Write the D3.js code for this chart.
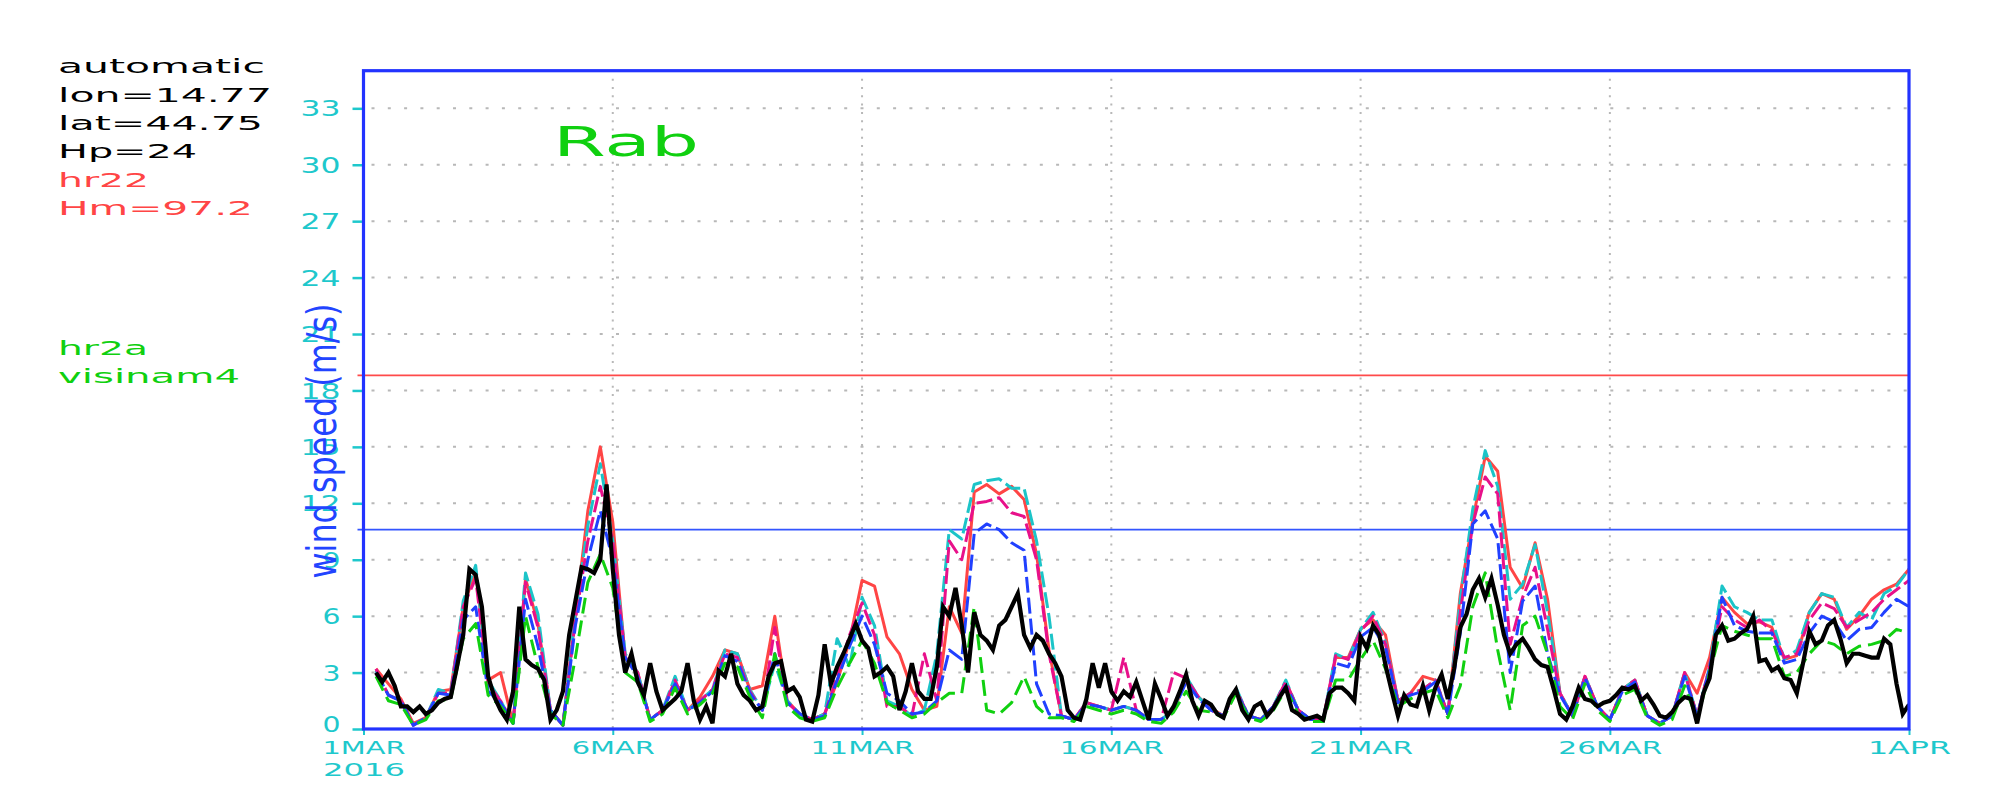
<!DOCTYPE html>
<html><head><meta charset="utf-8">
<script src="https://cdn.jsdelivr.net/npm/d3@7"></script>
<style>body{margin:0;background:#fff;} svg{display:block;}</style>
</head><body>
<svg id="chart" width="2000" height="800"></svg>
<script>
// ---------------- DATA ----------------
const periodStart = "2016-03-01T00:00:00Z";
const periodEnd   = "2016-04-01T00:00:00Z";
const modelStart  = "2016-03-01T06:00:00Z";   // model series: 6-hourly
const modelStepHours = 6;
const obsStart    = "2016-03-01T06:00:00Z";   // observations: 3-hourly
const obsStepHours = 3;

const yTickValues = [0, 3, 6, 9, 12, 15, 18, 21, 24, 27, 30, 33];
const xTickDates  = ["2016-03-01", "2016-03-06", "2016-03-11", "2016-03-16", "2016-03-21", "2016-03-26", "2016-04-01"];
const xTickLabels = ["1MAR", "6MAR", "11MAR", "16MAR", "21MAR", "26MAR", "1APR"];
const yearLabel = "2016";
const stationName = "Rab";
const axisTitle = "wind speed (m/s)";
const infoBlack = ["automatic", "lon=14.77", "lat=44.75", "Hp=24"];
const infoRed   = ["hr22", "Hm=97.2"];
const infoGreen = ["hr2a", "visinam4"];
const thresholdHigh = 18.8;
const thresholdLow  = 10.6;

// model forecasts (m/s), every 6 h from 1 MAR 06 UTC
const redModel = [
  3.2, 2.4, 1.6,
  0.3, 0.6, 2.0, 2.1,   6.5, 8.4, 2.6, 3.0,   0.3, 8.0, 5.6, 1.0,   0.2, 6.0, 11.6, 15.0,
  11.0, 3.8, 3.0, 0.5,  1.0, 2.5, 1.0, 1.7,   2.8, 4.2, 4.0, 2.1,   2.3, 6.0, 1.5, 0.8,
  0.5, 0.8, 2.5, 4.7,   7.9, 7.6, 4.9, 4.0,   2.1, 1.0, 1.2, 6.5,   5.1, 12.6, 13.0, 12.5,
  12.9, 12.2, 9.3, 4.2, 0.7, 0.5, 1.4, 1.2,   1.0, 1.2, 1.0, 0.5,   0.5, 1.0, 2.6, 1.7,
  1.1, 0.7, 2.1, 0.7,   0.5, 1.2, 2.5, 1.0,   0.5, 0.5, 3.8, 3.8,   5.3, 5.8, 5.0, 1.5,
  1.9, 2.8, 2.6, 0.8,   7.2, 11.1, 14.5, 13.7, 8.6, 7.5, 9.9, 6.9,  1.9, 0.7, 2.8, 1.2,
  0.5, 2.1, 2.6, 0.7,   0.3, 0.7, 3.0, 1.9,   3.8, 7.0, 6.2, 5.6,   5.7, 5.4, 3.7, 3.9,
  6.2, 7.2, 6.9, 5.3,   6.0, 6.9, 7.4, 7.7,
  8.5];
const cyanModel = [
  3.1, 1.8, 1.5,
  0.2, 0.6, 2.1, 1.9,   6.8, 8.7, 2.6, 1.5,   0.3, 8.3, 6.1, 1.0,   0.2, 6.2, 10.8, 14.1,
  10.0, 4.0, 3.0, 0.5,  1.0, 2.8, 1.0, 1.5,   2.1, 4.2, 4.0, 2.1,   1.0, 3.5, 1.5, 0.8,
  0.5, 0.8, 4.8, 3.3,   7.0, 5.5, 1.5, 1.2,   0.7, 1.0, 4.0, 10.6,  10.1, 13.0, 13.2, 13.3,
  12.8, 12.8, 10.0, 6.0, 0.7, 0.5, 1.4, 1.2,  1.0, 1.2, 1.0, 0.5,   0.5, 1.0, 2.8, 1.7,
  1.0, 0.7, 2.2, 0.7,   0.5, 1.2, 2.6, 1.0,   0.5, 0.5, 4.0, 3.7,   5.3, 6.2, 4.6, 1.5,
  1.9, 2.1, 2.6, 0.8,   6.9, 11.7, 14.8, 12.9, 6.9, 7.7, 9.8, 6.2,  1.9, 0.7, 2.8, 1.2,
  0.5, 2.1, 2.6, 0.7,   0.3, 0.7, 3.0, 0.7,   3.3, 7.6, 6.5, 6.2,   5.8, 5.8, 3.7, 4.2,
  6.2, 7.2, 7.0, 5.4,   6.2, 5.8, 7.2, 7.6,
  8.5];
const magentaModel = [
  3.2, 1.8, 1.5,
  0.2, 0.6, 1.9, 1.9,   6.5, 8.0, 2.4, 1.5,   0.3, 7.8, 5.4, 1.0,   0.2, 5.8, 10.0, 12.9,
  10.0, 3.8, 3.0, 0.5,  1.0, 2.6, 1.0, 1.5,   2.1, 4.0, 3.8, 2.0,   1.0, 5.4, 1.4, 0.8,
  0.5, 0.8, 2.8, 5.0,   6.7, 5.0, 1.2, 1.2,   0.7, 4.0, 1.5, 10.0,  9.0, 12.0, 12.1, 12.3,
  11.5, 11.3, 9.0, 4.0, 0.7, 0.5, 1.4, 1.2,   1.0, 3.8, 1.0, 0.5,   0.5, 3.0, 2.7, 1.7,
  1.0, 0.7, 2.1, 0.7,   0.5, 1.2, 2.5, 1.0,   0.5, 0.5, 3.9, 3.7,   5.2, 6.0, 4.5, 1.5,
  1.9, 2.1, 2.6, 0.8,   6.2, 10.9, 13.4, 12.5, 4.5, 7.0, 8.6, 5.3,  1.9, 0.7, 2.8, 1.2,
  0.5, 2.1, 2.6, 0.7,   0.3, 0.7, 3.0, 0.7,   3.3, 6.5, 5.8, 5.4,   5.8, 5.2, 3.8, 4.0,
  5.8, 6.7, 6.4, 5.4,   5.8, 6.2, 6.9, 7.4,
  7.9];
const blueModel = [
  3.0, 1.8, 1.5,
  0.2, 0.6, 1.9, 1.8,   5.8, 6.5, 2.0, 1.4,   0.3, 6.9, 4.4, 1.0,   0.2, 5.5, 9.0, 11.6,
  9.0, 3.8, 2.8, 0.5,   1.0, 2.4, 1.0, 1.4,   2.0, 3.9, 3.6, 1.9,   1.0, 4.0, 1.4, 0.8,
  0.5, 0.7, 2.6, 4.4,   6.0, 4.5, 1.9, 1.5,   0.8, 0.9, 1.5, 4.2,   3.7, 10.4, 10.9, 10.6,
  9.9, 9.5, 2.4, 0.8,   0.7, 0.5, 1.3, 1.2,   1.0, 1.2, 1.0, 0.5,   0.5, 1.0, 2.5, 1.6,
  1.0, 0.7, 2.0, 0.7,   0.5, 1.2, 2.3, 1.0,   0.5, 0.5, 3.5, 3.3,   4.9, 5.4, 4.3, 1.4,
  1.8, 2.0, 2.5, 0.8,   5.1, 10.9, 11.6, 10.1, 3.0, 6.8, 7.6, 4.0,  1.8, 0.7, 2.7, 1.2,
  0.5, 2.0, 2.5, 0.7,   0.3, 0.7, 2.8, 0.7,   3.2, 7.0, 5.5, 5.2,   5.1, 5.1, 3.5, 3.7,
  5.1, 6.0, 5.7, 4.7,   5.3, 5.4, 6.2, 6.9,
  6.5];
const greenModel = [
  2.8, 1.5, 1.3,
  0.2, 0.5, 1.5, 1.6,   4.8, 5.6, 1.8, 1.2,   0.3, 6.0, 3.3, 0.8,   0.2, 3.8, 7.8, 9.3,
  7.5, 3.0, 2.5, 0.4,   0.8, 2.2, 0.8, 1.3,   1.9, 3.5, 3.3, 1.7,   0.6, 4.0, 1.2, 0.6,
  0.4, 0.6, 2.2, 3.5,   4.7, 3.5, 1.4, 1.0,   0.6, 0.8, 1.4, 1.9,   1.9, 6.5, 1.0, 0.8,
  1.4, 2.8, 1.2, 0.6,   0.6, 0.4, 1.2, 1.0,   0.8, 1.0, 0.8, 0.4,   0.3, 0.9, 2.0, 1.0,
  0.9, 0.6, 1.9, 0.6,   0.4, 1.0, 2.1, 0.8,   0.4, 0.4, 2.6, 2.6,   3.7, 4.7, 3.2, 1.2,
  1.6, 1.9, 2.1, 0.6,   2.3, 6.5, 8.3, 4.2,   1.0, 5.5, 6.0, 4.0,   1.2, 0.5, 2.4, 1.0,
  0.4, 1.8, 2.1, 0.6,   0.2, 0.5, 2.3, 0.5,   3.0, 5.5, 5.2, 5.0,   4.8, 4.8, 2.8, 3.0,
  4.0, 4.7, 4.5, 4.0,   4.4, 4.5, 4.7, 5.3,
  5.1];
// observed wind speed (m/s), every 3 h from 1 MAR 06 UTC
const observed = [
  3.0, 2.5, 3.0, 2.3, 1.2, 1.2,
  0.9, 1.2, 0.8, 1.0, 1.4, 1.6, 1.7, 3.3,
  5.0, 8.5, 8.2, 6.5, 2.8, 1.7, 1.0, 0.5,
  2.0, 6.5, 3.7, 3.4, 3.2, 2.6, 0.5, 1.0,
  2.0, 5.0, 6.8, 8.6, 8.5, 8.3, 9.0, 13.0,
  8.5, 5.0, 3.0, 4.0, 2.5, 1.8, 3.5, 2.0,
  1.0, 1.3, 1.6, 2.0, 3.5, 1.5, 0.5, 1.2,
  0.3, 3.1, 2.8, 4.0, 2.4, 1.8, 1.5, 1.0,
  1.2, 2.8, 3.5, 3.6, 2.0, 2.2, 1.7, 0.5,
  0.4, 1.8, 4.5, 2.4, 3.3, 4.0, 4.8, 5.6,
  4.7, 4.3, 2.8, 3.0, 3.3, 2.8, 1.0, 2.0,
  3.5, 2.0, 1.6, 1.6, 3.3, 6.5, 6.0, 7.5,
  5.5, 3.0, 6.2, 5.0, 4.7, 4.2, 5.5, 5.8,
  6.5, 7.2, 5.0, 4.3, 5.0, 4.7, 4.0, 3.5,
  2.8, 1.0, 0.6, 0.5, 1.6, 3.5, 2.2, 3.5,
  2.0, 1.5, 2.0, 1.7, 2.5, 1.5, 0.5, 2.4,
  1.6, 0.7, 1.2, 2.0, 2.9, 1.5, 0.7, 1.5,
  1.3, 0.8, 0.6, 1.6, 2.1, 1.0, 0.5, 1.2,
  1.4, 0.7, 1.1, 1.7, 2.2, 1.0, 0.8, 0.5,
  0.6, 0.7, 0.5, 1.9, 2.2, 2.2, 1.9, 1.5,
  4.9, 4.3, 5.5, 5.0, 3.4, 2.0, 0.7, 1.8,
  1.3, 1.2, 2.3, 1.0, 2.2, 2.9, 1.6, 3.2,
  5.4, 6.1, 7.4, 8.0, 7.0, 8.0, 6.6, 5.0,
  4.0, 4.5, 4.8, 4.3, 3.7, 3.4, 3.3, 2.1,
  0.8, 0.5, 1.2, 2.2, 1.6, 1.5, 1.2, 1.4,
  1.5, 1.8, 2.2, 2.1, 2.3, 1.5, 1.8, 1.3,
  0.7, 0.6, 0.9, 1.4, 1.7, 1.6, 0.3, 1.9,
  2.7, 5.0, 5.5, 4.7, 4.8, 5.1, 5.3, 6.0,
  3.6, 3.7, 3.1, 3.3, 2.7, 2.6, 1.9, 3.5,
  5.2, 4.5, 4.7, 5.5, 5.8, 4.8, 3.5, 4.0,
  4.0, 3.9, 3.8, 3.8, 4.8, 4.5, 2.4, 0.8,
  1.3];

// ---------------- CHART ----------------
const svg = d3.select("#chart");
const pLeft = 363.5, pRight = 1909, pTop = 70.7, pBottom = 729;
const FONT = "'DejaVu Sans', sans-serif";
const CYAN = "#1ec8cc", FRAME = "#2233ff";

const x = d3.scaleUtc().domain([new Date(periodStart), new Date(periodEnd)]).range([pLeft, pRight]);
const y = d3.scaleLinear().domain([0, 35]).range([pBottom, pTop]);

function times(start, stepH, n) {
  const t0 = new Date(start);
  return d3.range(n).map(i => d3.utcHour.offset(t0, i * stepH));
}
const modelTimes = times(modelStart, modelStepHours, redModel.length);
const obsTimes = times(obsStart, obsStepHours, observed.length);

// grid
const grid = svg.append("g");
grid.selectAll("line.h").data(yTickValues.filter(v => v > 0)).join("line")
  .attr("x1", pLeft + 8).attr("x2", pRight).attr("y1", d => y(d)).attr("y2", d => y(d))
  .attr("stroke", "#b8b8b8").attr("stroke-width", 2).attr("stroke-dasharray", "3,13.3");
grid.selectAll("line.v").data(xTickDates.slice(1, -1)).join("line")
  .attr("x1", d => x(new Date(d + "T00:00:00Z"))).attr("x2", d => x(new Date(d + "T00:00:00Z")))
  .attr("y1", pTop + 8).attr("y2", pBottom)
  .attr("stroke", "#b8b8b8").attr("stroke-width", 2).attr("stroke-dasharray", "2,6.3");

// y axis ticks + labels
const yAxis = d3.axisLeft(y).tickValues(yTickValues).tickSize(11).tickFormat(d3.format("d"));
const yg = svg.append("g").attr("transform", `translate(${pLeft},0)`).call(yAxis);
yg.select(".domain").remove();
yg.selectAll(".tick line").attr("stroke", CYAN).attr("stroke-width", 2.5);
yg.selectAll(".tick text").attr("fill", CYAN).attr("font-family", FONT).attr("font-size", 21)
  .attr("x", -23).attr("dy", d => d === 0 ? "0.12em" : "0.36em")
  .attr("textLength", d => String(d).length > 1 ? 40 : 18).attr("lengthAdjust", "spacingAndGlyphs");

// x axis ticks + labels
const xAxis = d3.axisBottom(x).tickValues(xTickDates.map(d => new Date(d + "T00:00:00Z"))).tickSize(6)
  .tickFormat((d, i) => xTickLabels[i]);
const xg = svg.append("g").attr("transform", `translate(0,${pBottom})`).call(xAxis);
xg.select(".domain").remove();
xg.selectAll(".tick line").attr("stroke", CYAN).attr("stroke-width", 2);
xg.selectAll(".tick text").attr("fill", CYAN).attr("font-family", FONT).attr("font-size", 18)
  .attr("y", 25).attr("dy", 0)
  .attr("textLength", (d, i) => xTickLabels[i].length * 20.8).attr("lengthAdjust", "spacingAndGlyphs");
svg.append("text").attr("x", 323).attr("y", 776).text(yearLabel)
  .attr("fill", CYAN).attr("font-family", FONT).attr("font-size", 18)
  .attr("textLength", 82).attr("lengthAdjust", "spacingAndGlyphs");

// threshold lines
svg.append("line").attr("x1", pLeft - 6).attr("x2", pRight).attr("y1", y(thresholdHigh)).attr("y2", y(thresholdHigh))
  .attr("stroke", "#ff4a4a").attr("stroke-width", 1.6);
svg.append("line").attr("x1", pLeft - 6).attr("x2", pRight).attr("y1", y(thresholdLow)).attr("y2", y(thresholdLow))
  .attr("stroke", "#3355ff").attr("stroke-width", 1.6);

// series
svg.append("clipPath").attr("id", "plotclip").append("rect")
  .attr("x", pLeft).attr("y", pTop).attr("width", pRight - pLeft).attr("height", pBottom - pTop);
const plot = svg.append("g").attr("clip-path", "url(#plotclip)");
const lineGen = d3.line().defined(d => d[1] != null).x(d => x(d[0])).y(d => y(d[1]));
const series = [
  {v: redModel, c: "#ff4545", w: 3, dash: null},
  {v: cyanModel, c: "#1cc4c8", w: 3, dash: "16,5"},
  {v: magentaModel, c: "#e8108a", w: 3, dash: "16,5"},
  {v: blueModel, c: "#2040ff", w: 3, dash: "16,5"},
  {v: greenModel, c: "#10d010", w: 3, dash: "16,7"}
];
series.forEach(s => {
  plot.append("path").datum(s.v.map((v, i) => [modelTimes[i], v]))
    .attr("d", lineGen).attr("fill", "none").attr("stroke", s.c).attr("stroke-width", s.w)
    .attr("stroke-dasharray", s.dash).attr("stroke-linejoin", "round");
});
plot.append("path").datum(observed.map((v, i) => [obsTimes[i], v]))
  .attr("d", lineGen).attr("fill", "none").attr("stroke", "#000").attr("stroke-width", 4.2)
  .attr("stroke-linejoin", "miter");

// frame
svg.append("rect").attr("x", pLeft).attr("y", pTop).attr("width", pRight - pLeft).attr("height", pBottom - pTop)
  .attr("fill", "none").attr("stroke", FRAME).attr("stroke-width", 3.2);

// y title
svg.append("text").attr("transform", "translate(336,441) rotate(-90)")
  .attr("text-anchor", "middle").attr("font-family", FONT).attr("font-size", 40)
  .attr("fill", "#2244ff").attr("textLength", 275).attr("lengthAdjust", "spacingAndGlyphs").text(axisTitle);

// station title
svg.append("text").attr("x", 553).attr("y", 156).text(stationName)
  .attr("fill", "#10d010").attr("font-family", FONT).attr("font-size", 40)
  .attr("textLength", 146).attr("lengthAdjust", "spacingAndGlyphs");

// info texts
const info = [
  {t: infoBlack[0], y: 73, w: 207, c: "#000"},
  {t: infoBlack[1], y: 102, w: 214, c: "#000"},
  {t: infoBlack[2], y: 130, w: 205, c: "#000"},
  {t: infoBlack[3], y: 158, w: 139, c: "#000"},
  {t: infoRed[0], y: 187, w: 91, c: "#ff4545"},
  {t: infoRed[1], y: 215, w: 195, c: "#ff4545"},
  {t: infoGreen[0], y: 355, w: 90, c: "#10d010"},
  {t: infoGreen[1], y: 383, w: 182, c: "#10d010"}
];
svg.selectAll("text.info").data(info).join("text").attr("class", "info")
  .attr("x", 58).attr("y", d => d.y).text(d => d.t).attr("fill", d => d.c)
  .attr("font-family", FONT).attr("font-size", 20)
  .attr("textLength", d => d.w).attr("lengthAdjust", "spacingAndGlyphs");
</script>
</body></html>
